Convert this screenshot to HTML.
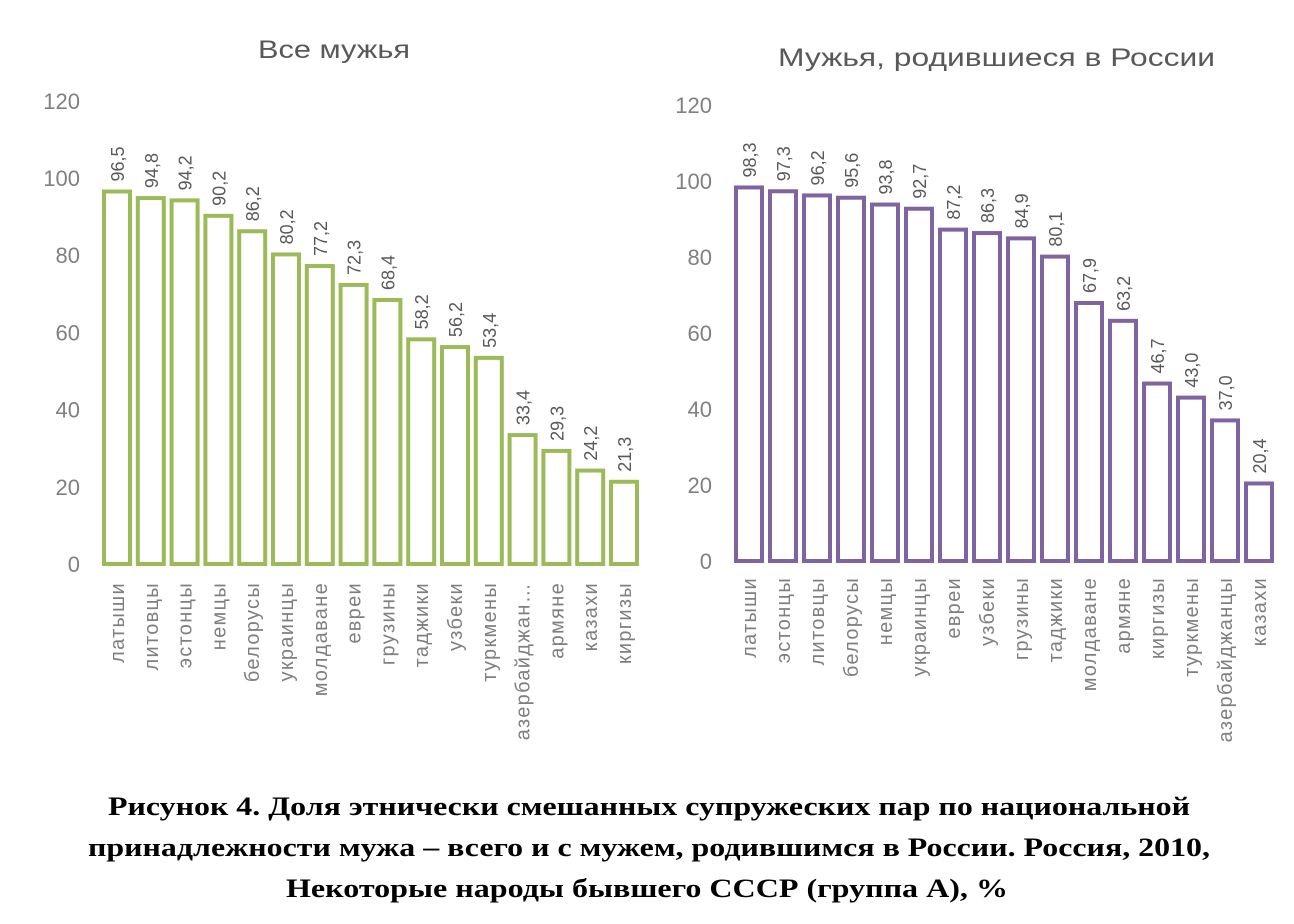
<!DOCTYPE html>
<html><head><meta charset="utf-8"><style>
body{margin:0;background:#fff;width:1294px;height:924px;overflow:hidden}
svg{display:block}
.ax{font-family:"Liberation Sans",sans-serif;font-size:22px;fill:#808080}
.v{font-family:"Liberation Sans",sans-serif;font-size:18px;fill:#595959}
.c{font-family:"Liberation Sans",sans-serif;font-size:20px;fill:#7f7f7f;letter-spacing:1.3px}
.t{font-family:"Liberation Sans",sans-serif;font-size:25px;fill:#595959}
.cap{font-family:"Liberation Serif",serif;font-size:26px;font-weight:bold;fill:#000}
</style></head><body>
<svg id="s" width="1294" height="924" xmlns="http://www.w3.org/2000/svg">
<text class="t" x="258" y="58" textLength="152" lengthAdjust="spacingAndGlyphs">Все мужья</text>
<text class="t" x="778" y="66" textLength="437" lengthAdjust="spacingAndGlyphs">Мужья, родившиеся в России</text>
<text class="cap" x="108" y="815" textLength="1082" lengthAdjust="spacingAndGlyphs">Рисунок 4. Доля этнически смешанных супружеских пар по национальной</text>
<text class="cap" x="88" y="856" textLength="1122" lengthAdjust="spacingAndGlyphs">принадлежности мужа – всего и с мужем, родившимся в России. Россия, 2010,</text>
<text class="cap" x="286" y="897" textLength="722" lengthAdjust="spacingAndGlyphs">Некоторые народы бывшего СССР (группа А), %</text>
<g id="g"></g>
</svg>
<script>
var g=document.getElementById('g'),h='';
function chart(data,x0,pitch,base,sc,col,axX,catY){
 for(var i=0;i<=6;i++){var v=i*20;h+='<text class="ax" x="'+axX+'" y="'+(base-v*sc+8)+'" text-anchor="end">'+v+'</text>';}
 data.forEach(function(d,i){var l=x0+i*pitch+2,w=26,top=base-d[1]*sc;
  h+='<rect x="'+l+'" y="'+top+'" width="'+w+'" height="'+(base-top)+'" fill="#fff" stroke="'+col+'" stroke-width="4"/>';
  var cx=l+w/2+6;
  h+='<text class="v" transform="translate('+(cx+1)+','+(top-10)+') rotate(-90)">'+d[1].toFixed(1).replace('.',',')+'</text>';
  h+='<text class="c" text-anchor="end" transform="translate('+(cx+1)+','+catY+') rotate(-90)">'+d[0]+'</text>';
 });
}
chart([["латыши",96.5],["литовцы",94.8],["эстонцы",94.2],["немцы",90.2],["белорусы",86.2],["украинцы",80.2],["молдаване",77.2],["евреи",72.3],["грузины",68.4],["таджики",58.2],["узбеки",56.2],["туркмены",53.4],["азербайджан…",33.4],["армяне",29.3],["казахи",24.2],["киргизы",21.3]],102,33.8,564,3.86,"#9bbb59",80,582);
chart([["латыши",98.3],["эстонцы",97.3],["литовцы",96.2],["белорусы",95.6],["немцы",93.8],["украинцы",92.7],["евреи",87.2],["узбеки",86.3],["грузины",84.9],["таджики",80.1],["молдаване",67.9],["армяне",63.2],["киргизы",46.7],["туркмены",43.0],["азербайджанцы",37.0],["казахи",20.4]],734,34,561,3.8,"#8064a2",712,577);
g.innerHTML=h;
</script>
</body></html>
